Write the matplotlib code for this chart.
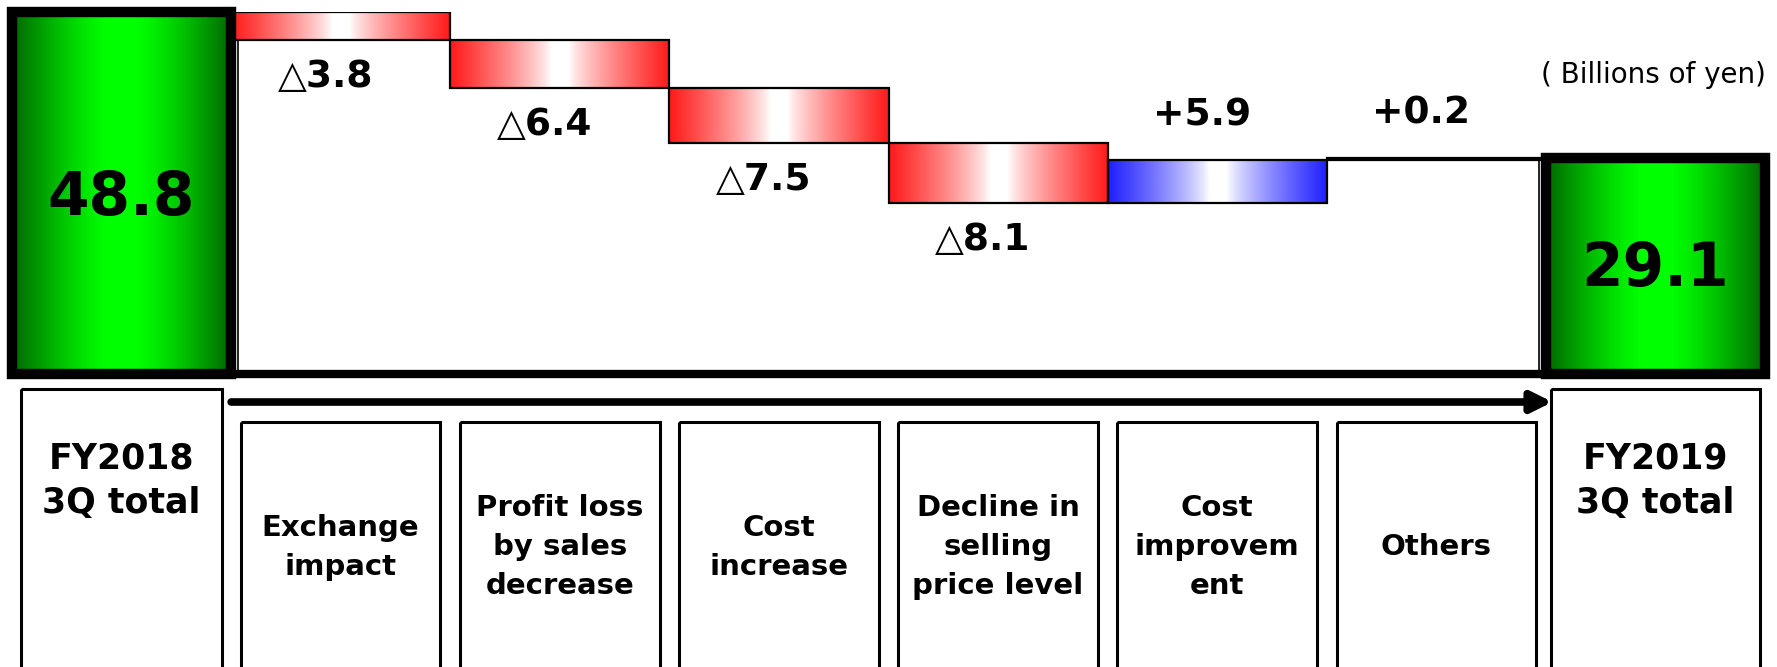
import numpy as np
import matplotlib.pyplot as plt
from matplotlib.patches import Rectangle

# values (billions of yen)
start_total = 48.8
end_total = 29.1
steps = [-3.8, -6.4, -7.5, -8.1, 5.9, 0.2]
step_labels = ['△3.8', '△6.4', '△7.5', '△8.1', '+5.9', '+0.2']
total_labels = ['48.8', '29.1']
categories = ['FY2018\n3Q total', 'Exchange\nimpact', 'Profit loss\nby sales\ndecrease',
              'Cost\nincrease', 'Decline in\nselling\nprice level', 'Cost\nimprovem\nent',
              'Others', 'FY2019\n3Q total']
unit_label = '( Billions of yen)'

# styles / layout
step_fill = ['red', 'red', 'red', 'red', 'blue', 'none']
box_widths = [0.92, 0.91, 0.91, 0.91, 0.91, 0.91, 0.91, 0.95]
box_tops = [389, 422, 422, 422, 422, 422, 422, 389]

RED = (1.0, 0.1, 0.1)
BLUE = (0.12, 0.12, 1.0)
WHITE = (1.0, 1.0, 1.0)
LIME = (0.0, 1.0, 0.0)
DARK = (0.0, 0.4, 0.0)


def gradient(edge, center, flat, power):
    u = np.abs(np.linspace(-1, 1, 300))
    t = np.clip((u - flat) / (1 - flat), 0, 1) ** power
    rgb = np.outer(1 - t, center) + np.outer(t, edge)
    return rgb[np.newaxis, :, :]


grads = {'red': gradient(RED, WHITE, 0.08, 0.8),
         'blue': gradient(BLUE, WHITE, 0.08, 0.8),
         'green': gradient(DARK, LIME, 0.12, 1.3)}

fig = plt.figure(figsize=(17.77, 6.67), dpi=100)
ax = fig.add_axes([12 / 1777, 1 - 374 / 667, 1753 / 1777, 362 / 667])

n = len(categories)
totals = [(0, start_total), (n - 1, end_total)]

# total bars
for (i, v), lbl in zip(totals, total_labels):
    ax.imshow(grads['green'], extent=[i - 0.5, i + 0.5, 0, v], aspect='auto',
              interpolation='bilinear', zorder=1)
    ax.add_patch(Rectangle((i - 0.5, 0), 1, v, fill=False, ec='black', lw=7.5,
                           zorder=3, clip_on=False, joinstyle='miter'))
    ax.text(i, v * 0.485, lbl, ha='center', va='center', fontsize=43,
            fontweight='bold', color='black', zorder=5)

# step bars
running = start_total
for k, (s, lbl, fill) in enumerate(zip(steps, step_labels, step_fill)):
    i = k + 1
    lo, hi = min(running, running + s), max(running, running + s)
    if fill != 'none':
        ax.imshow(grads[fill], extent=[i - 0.5, i + 0.5, lo, hi], aspect='auto',
                  interpolation='bilinear', zorder=1)
        ax.add_patch(Rectangle((i - 0.5, lo), 1, hi - lo, fill=False, ec='black',
                               lw=1.6, zorder=2))
    else:
        ax.add_patch(Rectangle((i - 0.5, lo), 1, hi - lo, fc='white', ec='black',
                               lw=1.6, zorder=2))
    if s < 0:
        ax.text(i - 0.07, lo - 5.0, lbl, ha='center', va='center', fontsize=27,
                fontweight='bold', color='black')
    else:
        ax.text(i - 0.07, hi + 6.0, lbl, ha='center', va='center', fontsize=27,
                fontweight='bold', color='black')
    running += s

# thin frame lines and baseline
ax.plot([0.53, 0.53], [0, start_total + steps[0]], color='black', lw=1.2, zorder=1.5)
ax.plot([n - 1.53, n - 1.53], [0, end_total], color='black', lw=1.2, zorder=1.5)
ax.plot([-0.5, n - 0.5], [0, 0], color='black', lw=6, zorder=4, clip_on=False,
        solid_capstyle='projecting')

ax.text(n - 0.495, 40.3, unit_label, ha='right', va='center', fontsize=20, color='black')

ax.set_xlim(-0.5, n - 0.5)
ax.set_ylim(0, start_total)
ax.axis('off')

# category boxes
lab = fig.add_axes([12 / 1777, 0, 1753 / 1777, 287 / 667])
lab.set_xlim(-0.5, n - 0.5)
lab.set_ylim(667, 380)
lab.axis('off')

for i, (name, w, top) in enumerate(zip(categories, box_widths, box_tops)):
    lab.add_patch(Rectangle((i - w / 2, top), w, 320, fill=False, ec='black', lw=2.2))
    if i in (0, n - 1):
        lab.text(i, 481, name, ha='center', va='center', fontsize=25,
                 fontweight='bold', linespacing=1.4)
    else:
        lab.text(i, 547, name, ha='center', va='center', fontsize=21,
                 fontweight='bold', linespacing=1.5)

lab.annotate('', xy=(n - 1.47, 402), xytext=(0.5, 402),
             arrowprops=dict(arrowstyle='-|>', color='black', lw=5.5,
                             mutation_scale=30, shrinkA=0, shrinkB=0))

fig.savefig('out.png', dpi=100)
